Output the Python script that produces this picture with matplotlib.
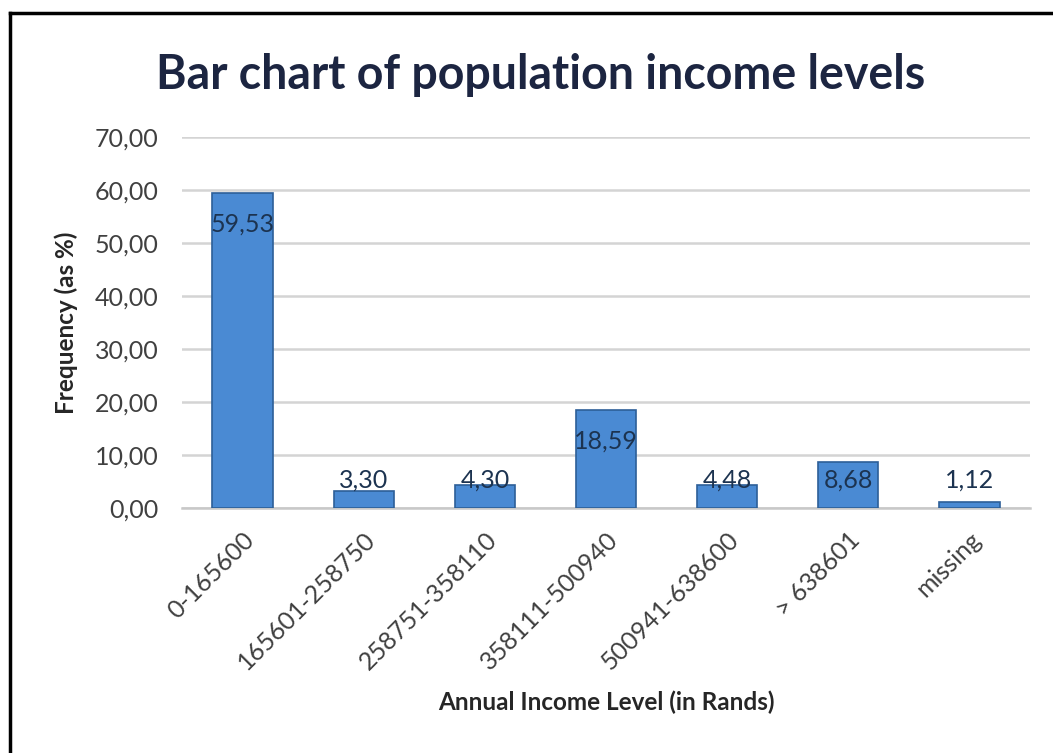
import matplotlib
matplotlib.use("Agg")
from matplotlib import pyplot as plt
from matplotlib.ticker import FuncFormatter
from matplotlib.lines import Line2D

categories = ["0-165600", "165601-258750", "258751-358110", "358111-500940",
              "500941-638600", "> 638601", "missing"]
values = [59.53, 3.30, 4.30, 18.59, 4.48, 8.68, 1.12]
y_ticks = [0, 10, 20, 30, 40, 50, 60, 70]

plt.rcParams['font.family'] = ['Lato', 'DejaVu Sans']

fig = plt.figure(figsize=(10.53, 7.53), dpi=100)
ax = fig.add_axes([0.173, 0.325, 0.805, 0.493])

x = range(len(categories))
ax.bar(x, values, width=0.5, color='#4a8ad3', edgecolor='#2d5f98', linewidth=1.2, zorder=3)

def comma(v):
    return f'{v:.2f}'.replace('.', ',')

# labels sit inside the bar end, pushed up above the bar when it is too short
for i, v in zip(x, values):
    ax.text(i, max(v - 6.0, 5.3), comma(v), ha='center', va='center',
            fontsize=18, color='#1c3350', zorder=4)

ax.set_ylim(0, 70)
ax.set_xlim(-0.5, len(categories) - 0.5)
ax.set_yticks(y_ticks)
ax.yaxis.set_major_formatter(FuncFormatter(lambda v, p: comma(v)))
ax.grid(axis='y', color='#d4d4d4', linewidth=1.8, zorder=0)
for s in ['top', 'right', 'left']:
    ax.spines[s].set_visible(False)
ax.spines['bottom'].set_color('#c8c8c8')
ax.spines['bottom'].set_linewidth(1.8)
ax.tick_params(length=0, labelsize=18, colors='#404040')
ax.tick_params(axis='y', pad=17)
ax.tick_params(axis='x', pad=14)
ax.set_xticks(list(x))
ax.set_xticklabels(categories, rotation=45, ha='right', rotation_mode='anchor')

ax.set_ylabel('Frequency (as %)', fontsize=17.5, fontweight='bold', color='#262626', labelpad=12)
ax.set_xlabel('Annual Income Level (in Rands)', fontsize=17.5, fontweight='bold', color='#262626', labelpad=12)
fig.text(0.513, 0.9, 'Bar chart of population income levels', ha='center', va='center',
         fontsize=33.5, fontweight='bold', color='#1c2541')

# outer frame (top and left edges visible in the reference)
fig.add_artist(Line2D([9.5 / 1053, 1.0], [1 - 13 / 753] * 2, transform=fig.transFigure, color='black', linewidth=2.5))
fig.add_artist(Line2D([9.5 / 1053] * 2, [0, 1 - 13 / 753], transform=fig.transFigure, color='black', linewidth=2.5))

fig.savefig('out.png', dpi=100)
